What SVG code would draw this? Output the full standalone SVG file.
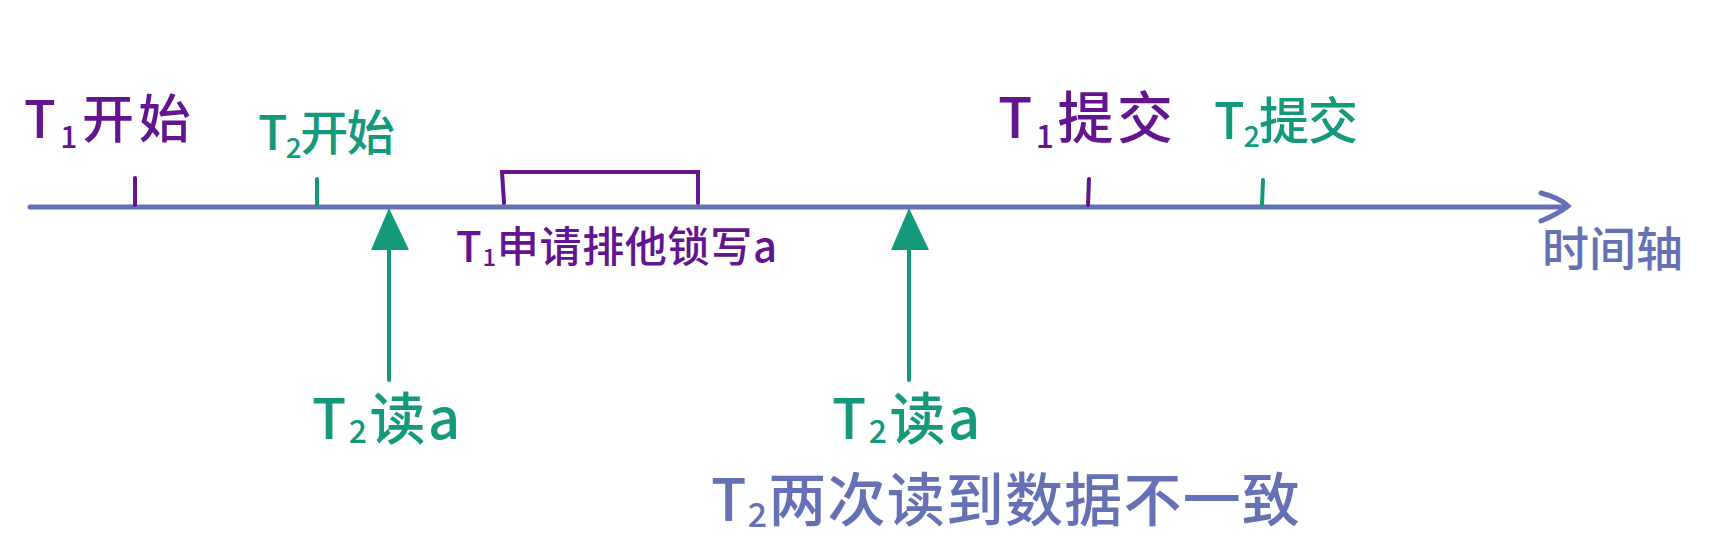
<svg xmlns="http://www.w3.org/2000/svg" width="1712" height="545" viewBox="0 0 1712 545">
<style>
.t{font-family:"Noto Sans CJK SC","Noto Sans",sans-serif;font-weight:500}
.p{fill:#63148f}
.g{fill:#14997c}
.b{fill:#6670b5}
.sp{stroke:#63148f;stroke-width:4;stroke-linecap:round;fill:none}
.sg{stroke:#14997c;stroke-width:4;stroke-linecap:round;fill:none}
.sb{stroke:#6670b5;stroke-width:5;stroke-linecap:round;fill:none}
</style>
<g id="connectors">
<path id="axis" class="sb" d="M30,207 H1564"/>
<path class="sb" d="M1541,193 Q1560,198 1568,206 Q1558,214 1541,221"/>
<path id="read1" class="sg" d="M389,380 V250"/>
<path d="M389,208 L371,250 L409,250 z" fill="#14997c"/>
<path id="read2" class="sg" d="M909,380 V250"/>
<path d="M909,208 L891,250 L929,250 z" fill="#14997c"/>
<path id="lock" class="sp" d="M504,203 L502,172 H698 V203"/>
</g>
<g id="t1start">
<path class="sp" d="M135,178 V205"/>
<text class="t p" x="24" y="138" font-size="52" letter-spacing="4.5">T<tspan font-size="30" dy="10">1</tspan><tspan dy="-10">开始</tspan></text>
</g>
<g id="t2start">
<path class="sg" d="M317,179 V205"/>
<text class="t g" x="258" y="150" font-size="48" letter-spacing="-1.5">T<tspan font-size="28" dy="8">2</tspan><tspan dy="-8">开始</tspan></text>
</g>
<g id="t1commit">
<path class="sp" d="M1089,179 L1088,205"/>
<text class="t p" x="998" y="138" font-size="56" letter-spacing="3.5">T<tspan font-size="32" dy="10">1</tspan><tspan dy="-10">提交</tspan></text>
</g>
<g id="t2commit">
<path class="sg" d="M1263,180 L1262,205"/>
<text class="t g" x="1214" y="139" font-size="50" letter-spacing="-1">T<tspan font-size="29" dy="8">2</tspan><tspan dy="-8">提交</tspan></text>
</g>
<g id="t1lock">
<text class="t p" x="456" y="262" font-size="42" letter-spacing="0.7">T<tspan font-size="24" dy="4">1</tspan><tspan dy="-4">申请排他锁写a</tspan></text>
</g>
<g id="t2read1">
<text class="t g" x="312" y="439" font-size="56" letter-spacing="2.5">T<tspan font-size="32" dy="4">2</tspan><tspan dy="-4">读a</tspan></text>
</g>
<g id="t2read2">
<text class="t g" x="832" y="439" font-size="56" letter-spacing="2.5">T<tspan font-size="32" dy="4">2</tspan><tspan dy="-4">读a</tspan></text>
</g>
<g id="axislabel">
<text class="t b" x="1542" y="266" font-size="47">时间轴</text>
</g>
<g id="conclusion">
<text class="t b" x="711" y="521" font-size="58" letter-spacing="1.2">T<tspan font-size="34" dy="6">2</tspan><tspan dy="-6">两次读到数据不一致</tspan></text>
</g>
</svg>
